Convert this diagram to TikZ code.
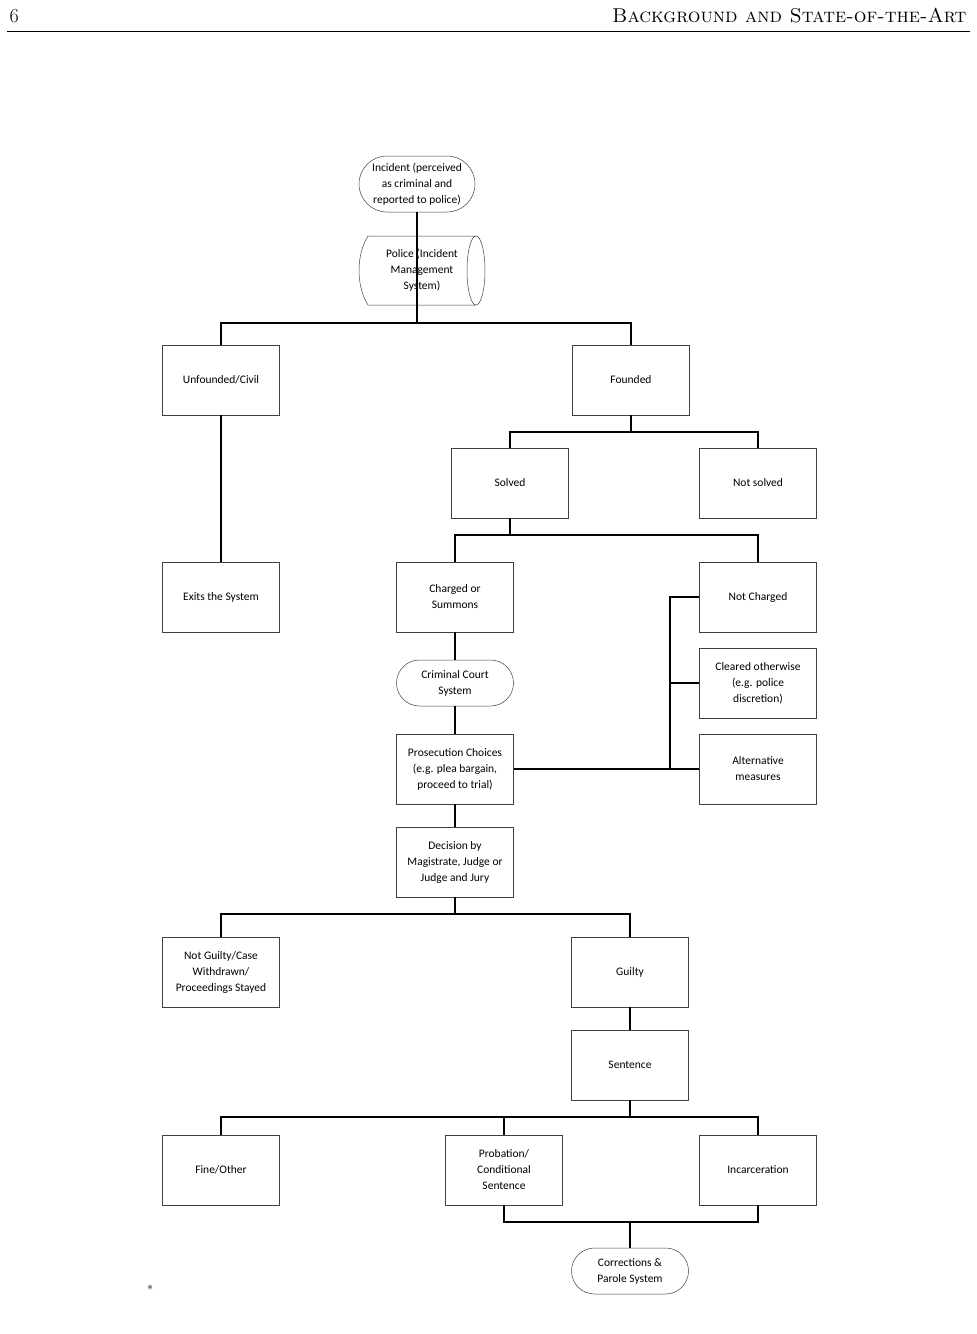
\documentclass[tikz,border=0pt]{standalone}
\usepackage{fontspec}
\newfontfamily\carlitofont{Carlito}
\begin{document}
\begin{tikzpicture}[x=1pt,y=-1pt,
 box/.style={draw=black!75,line width=0.5pt,minimum width=117pt,minimum height=70pt,align=center,inner sep=1pt,font=\carlitofont\fontsize{11.5}{16}\selectfont},
 pill/.style={box,rounded corners=23pt,minimum height=46pt},
 con/.style={line width=1.1pt}]
\useasboundingbox (0,0) rectangle (977,1334);
\node[anchor=base west,font=\fontsize{20}{20}\selectfont] (pg) at (6,22) {6};
\node[anchor=base east,font=\fontsize{20}{20}\selectfont\scshape] (hd) at (970,22) {Background and State-of-the-Art};
\draw[line width=0.6pt] (7,31) -- (970,31);
\node[pill,minimum width=116pt,minimum height=56pt,rounded corners=28pt] (inc) at (417,184) {Incident (perceived\\as criminal and\\reported to police)};
\node[box,draw=none,minimum width=125pt,minimum height=69pt] (pol) at (422,270) {Police (Incident\\Management\\System)};
\draw[black!75,line width=0.5pt] (368,236) -- (476,236) (368,305) -- (476,305)
  (368,236) .. controls (356,255) and (356,286) .. (368,305)
  (476,270.5) ellipse [x radius=9, y radius=34.5];
\node[box] (unf) at (221,380) {Unfounded/Civil};
\node[box] (fou) at (631,380) {Founded};
\node[box] (sol) at (510,483) {Solved};
\node[box] (nso) at (758,483) {Not solved};
\node[box] (exi) at (221,597) {Exits the System};
\node[box] (cha) at (455,597) {Charged or\\Summons};
\node[box] (nch) at (758,597) {Not Charged};
\node[pill] (cou) at (455,683) {Criminal Court\\System};
\node[box] (cle) at (758,683) {Cleared otherwise\\(e.g. police\\discretion)};
\node[box] (pro) at (455,769) {Prosecution Choices\\(e.g. plea bargain,\\proceed to trial)};
\node[box] (alt) at (758,769) {Alternative\\measures};
\node[box] (dec) at (455,862) {Decision by\\Magistrate, Judge or\\Judge and Jury};
\node[box] (ngu) at (221,972) {Not Guilty/Case\\Withdrawn/\\Proceedings Stayed};
\node[box] (gui) at (630,972) {Guilty};
\node[box] (sen) at (630,1065) {Sentence};
\node[box] (fin) at (221,1170) {Fine/Other};
\node[box] (prb) at (504,1170) {Probation/\\Conditional\\Sentence};
\node[box] (inc2) at (758,1170) {Incarceration};
\node[pill] (cor) at (630,1271) {Corrections \&\\Parole System};
\node[font=\large] (ast) at (150,1288) {$\ast$};
\coordinate (pb) at (417,305);
\draw[con] (inc.south) -- (pb);
\draw[con] (pb) -- (417,323) -| (unf.north);
\draw[con] (417,323) -| (fou.north);
\draw[con] (unf.south) -- (exi.north);
\draw[con] (fou.south) -- (631,432) -| (sol.north);
\draw[con] (631,432) -| (nso.north);
\draw[con] (sol.south) -- (510,535) -| (cha.north);
\draw[con] (510,535) -| (nch.north);
\draw[con] (cha) -- (cou) -- (pro) -- (dec);
\draw[con] (pro.east) -- (alt.west);
\draw[con] (nch.west) -- (670,597) -- (670,769);
\draw[con] (cle.west) -- (670,683);
\draw[con] (dec.south) -- (455,914) -| (ngu.north);
\draw[con] (455,914) -| (gui.north);
\draw[con] (gui) -- (sen);
\draw[con] (sen.south) -- (630,1117) -| (fin.north);
\draw[con] (630,1117) -| (prb.north);
\draw[con] (630,1117) -| (inc2.north);
\draw[con] (prb.south) |- (630,1222) -| (inc2.south);
\draw[con] (630,1222) -- (cor.north);
\end{tikzpicture}
\end{document}
